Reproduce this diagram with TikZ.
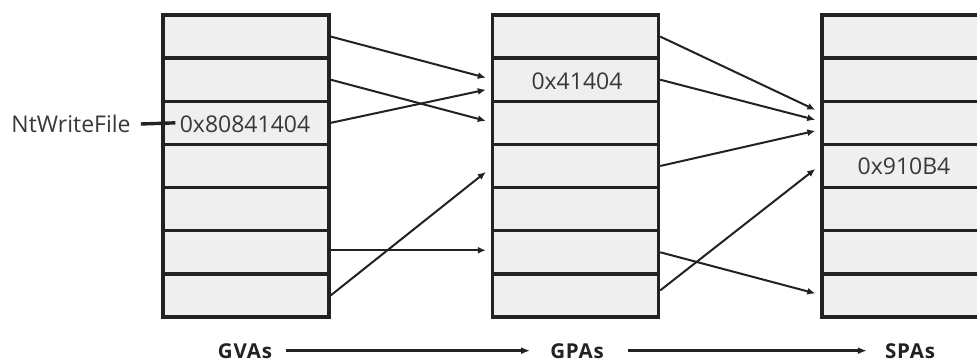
\documentclass[tikz,border=0pt]{standalone}
\usepackage{fontspec}
\setmainfont{Open Sans}
\usetikzlibrary{arrows.meta}
\definecolor{cellfill}{HTML}{EFEFEF}
\definecolor{ink}{HTML}{222222}
\begin{document}
\begin{tikzpicture}[x=1pt,y=-1pt,
  cell/.style={draw=ink,fill=cellfill,line width=3.4pt,minimum width=166pt,minimum height=43.14pt,inner sep=0pt},
  txt/.style={font=\fontsize{23}{26}\selectfont,text=ink!90,inner sep=0pt},
  map/.style={draw=ink,line width=2pt,-{Latex[length=8pt,width=7pt]}},
  axis/.style={draw=ink,line width=2.4pt,-{Latex[length=9pt,width=7pt]}},
  lbl/.style={font=\fontsize{20.5}{24}\selectfont\bfseries\addfontfeatures{LetterSpace=4},text=ink,inner sep=0pt,anchor=base}]
\useasboundingbox (0,0) rectangle (977,363);
\clip (0,0) rectangle (977,363);
\fill[white] (0,0) rectangle (977,363);
\foreach \i in {1,...,7}{
  \node[cell] (g\i) at (246,{15+43.14*(\i-0.5)}) {};
  \node[cell] (p\i) at (575.5,{15+43.14*(\i-0.5)}) {};
  \node[cell] (s\i) at (905,{15+43.14*(\i-0.5)}) {};
}
\node[txt] (gva) at (245,124) {0x80841404};
\node[txt] (gpa) at (577,81) {0x41404};
\node[txt] (spa) at (904,166) {0x910B4};
\node[txt] (ntw) at (71,124) {NtWriteFile};
\draw[draw=ink,line width=3.4pt] ([xshift=10pt]ntw.east) -- ([xshift=14pt]g3.west);
% GVA -> GPA
\draw[map] (g1.east) -- ([xshift=-5pt,yshift=2pt]p2.west);
\draw[map] (g2.east) -- ([xshift=-5pt,yshift=2pt]p3.west);
\draw[map] (g3.east) -- ([xshift=-5pt,yshift=-10pt]p2.west);
\draw[map] ([yshift=2pt]g6.east) -- ([xshift=-5pt,yshift=2pt]p6.west);
\draw[map] (g7.east) -- ([xshift=-5pt,yshift=-6pt]p4.west);
% GPA -> SPA
\draw[map] (p1.east) -- ([xshift=-5pt,yshift=13pt]s3.west);
\draw[map] (p2.east) -- ([xshift=-5pt,yshift=3pt]s3.west);
\draw[map] (p4.east) -- ([xshift=-5pt,yshift=-8pt]s3.west);
\draw[map] ([yshift=5pt]p7.east) -- ([xshift=-5pt,yshift=-3pt]s4.west);
\draw[map] (p6.east) -- ([xshift=-5pt,yshift=2pt]s7.west);
% axis
\node[lbl] (gvas) at (245,358) {GVAs};
\node[lbl] (gpas) at (577,358) {GPAs};
\node[lbl] (spas) at (910,358) {SPAs};
\draw[axis] ([xshift=14pt]gvas.east) -- ([xshift=-20pt]gpas.west);
\draw[axis] ([xshift=24pt]gpas.east) -- ([xshift=-18pt]spas.west);
\end{tikzpicture}
\end{document}
